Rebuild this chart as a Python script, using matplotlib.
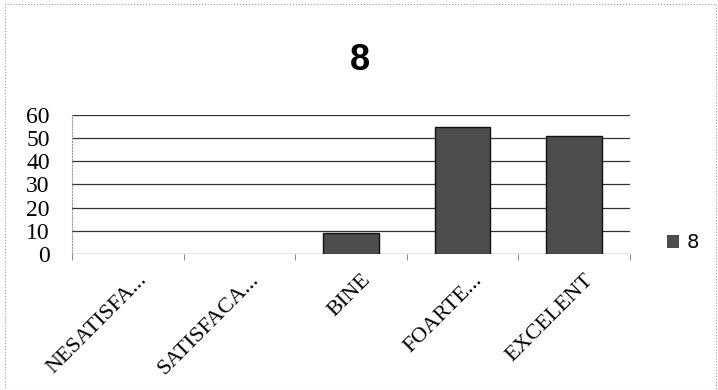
import matplotlib.pyplot as plt
from matplotlib.patches import Rectangle
from matplotlib.transforms import ScaledTranslation

categories = ["NESATISFA...", "SATISFACA...", "BINE", "FOARTE...", "EXCELENT"]
values = [0, 0, 9, 55, 51]
series_name = "8"

fig = plt.figure(figsize=(7.18, 3.9), dpi=100)
ax = fig.add_axes([0.1003, 0.349, 0.777, 0.356])

x = range(len(categories))
bars = ax.bar(x, values, width=0.5, color="#4d4d4d", edgecolor="#111111",
              linewidth=1.0, label=series_name, zorder=3)
for b, v in zip(bars, values):
    if v == 0:
        b.set_linewidth(0)

ax.set_ylim(0, 60)
ax.set_xlim(-0.5, len(categories) - 0.5)
ax.set_yticks(range(0, 61, 10))
ax.yaxis.grid(True, color="#333333", linewidth=0.9, linestyle="-")
ax.set_axisbelow(True)
for s in ["top", "right", "bottom"]:
    ax.spines[s].set_visible(False)
ax.spines["left"].set_color("#999999")
ax.spines["left"].set_linestyle(":")

ax.set_xticks(list(x))
ax.set_xticklabels(categories, rotation=45, ha="right", rotation_mode="anchor",
                   family="Liberation Serif", fontsize=16)
ax.tick_params(axis="x", length=0, pad=12)
ax.tick_params(axis="y", length=0, pad=16)
shift = ScaledTranslation(10 / 100, 0, fig.dpi_scale_trans)
for lab in ax.get_xticklabels():
    lab.set_transform(lab.get_transform() + shift)
for lab in ax.get_yticklabels():
    lab.set_family("Liberation Serif")
    lab.set_fontsize(17)

# small tick marks at category boundaries
ax.set_xticks([i - 0.5 for i in range(len(categories) + 1)], minor=True)
ax.tick_params(axis="x", which="minor", length=4, color="#777777")

fig.text(0.501, 0.845, "8", ha="center", va="center", fontsize=26,
         fontweight="bold", family="Liberation Sans")

leg = fig.legend(handles=[bars], labels=[series_name], loc="center left",
                 bbox_to_anchor=(0.905, 0.377), frameon=False, fontsize=14,
                 handlelength=0.6, handleheight=0.6, handletextpad=0.4)

fig.patches.append(Rectangle((0.007, 0.0), 0.99, 0.99, transform=fig.transFigure,
                             fill=False, edgecolor="#999999", linewidth=0.8,
                             linestyle=":"))

fig.savefig("out.png", dpi=100)
